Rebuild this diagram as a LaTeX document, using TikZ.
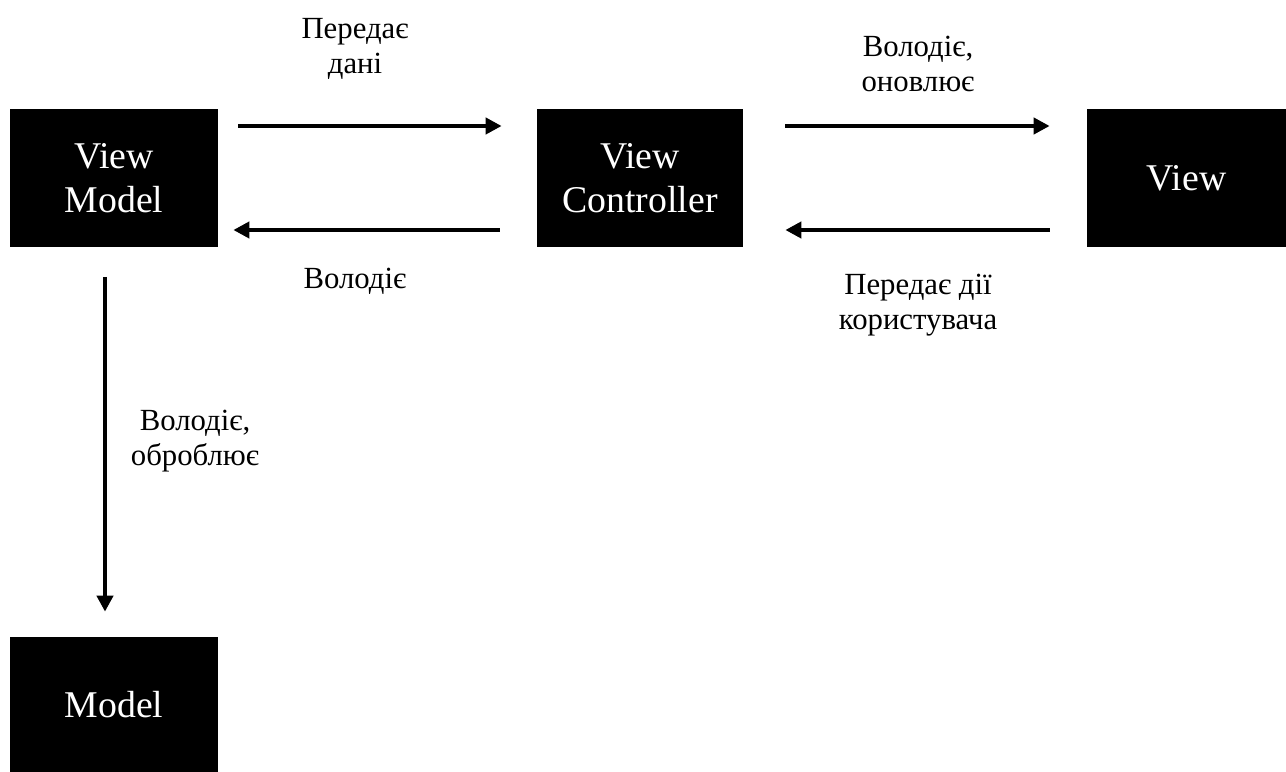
\documentclass[tikz,border=0pt]{standalone}
\usepackage{fontspec}
\setmainfont{Liberation Serif}
\usetikzlibrary{arrows.meta,positioning}
\tikzset{
  mvcbox/.style={
    fill=black, text=white, minimum width=41.6mm, minimum height=27.4mm,
    inner sep=0pt, align=center, font=\fontsize{21.5}{25}\selectfont
  },
  flow/.style={-{Triangle[length=3.2mm, width=3.2mm]}, line width=0.9mm},
  tag/.style={font=\fontsize{17.5}{20}\selectfont, align=center, inner sep=0pt}
}
\begin{document}
\begin{tikzpicture}[x=0.2mm, y=-0.2mm]
  \useasboundingbox (0,0) rectangle (1286,772);
  \node[mvcbox] (vm) at (114,178) {View\\Model};
  \node[mvcbox, minimum width=41.2mm] (vc) at (640,178) {View\\Controller};
  \node[mvcbox, minimum width=39.8mm] (v) at (1186.5,178) {View};
  \node[mvcbox, minimum height=27mm] (m) at (114,704.5) {Model};

  \draw[flow, shorten <=4mm, shorten >=7mm] ([yshift=10.4mm]vm.east) -- ([yshift=10.4mm]vc.west);
  \draw[flow, shorten <=7.4mm, shorten >=3mm] ([yshift=-10.4mm]vc.west) -- ([yshift=-10.4mm]vm.east);
  \draw[flow, shorten <=8.4mm, shorten >=7.4mm] ([yshift=10.4mm]vc.east) -- ([yshift=10.4mm]v.west);
  \draw[flow, shorten <=7.4mm, shorten >=8.4mm] ([yshift=-10.4mm]v.west) -- ([yshift=-10.4mm]vc.east);
  \draw[flow, shorten <=6mm, shorten >=5mm] ([xshift=-1.8mm]vm.south) -- ([xshift=-1.8mm]m.north);

  \node[tag] (givedata) at (355,49) {Передає\\дані};
  \node[tag] (owns) at (355,281) {Володіє};
  \node[tag] (ownsupd) at (918,64) {Володіє,\\оновлює};
  \node[tag] (useract) at (918,305) {Передає дії\\користувача};
  \node[tag] (ownsproc) at (195,441) {Володіє,\\оброблює};
\end{tikzpicture}
\end{document}
